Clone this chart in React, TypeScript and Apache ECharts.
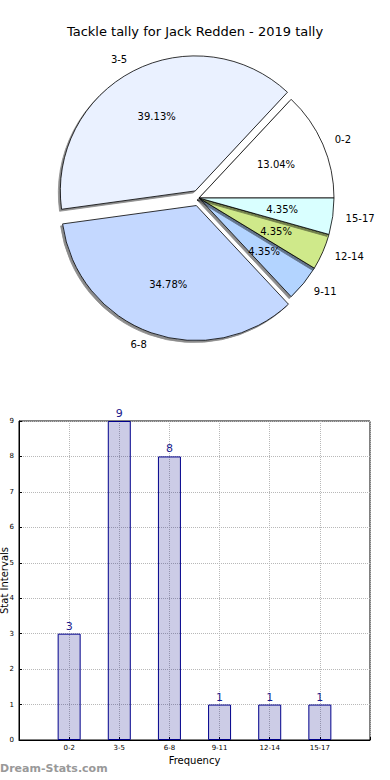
import React, { useEffect, useRef } from "react";
import * as echarts from "echarts";

const title = "Tackle tally for Jack Redden - 2019 tally";
const categories = ["0-2", "3-5", "6-8", "9-11", "12-14", "15-17"];
const counts = [3, 9, 8, 1, 1, 1];
const sliceColors = ["#ffffff", "#eaf1ff", "#c4d8ff", "#b3d4ff", "#cfe98a", "#d9ffff"];
const exploded = [false, true, true, false, false, false];
const yTicks = [0, 1, 2, 3, 4, 5, 6, 7, 8, 9];

const FONT = "DejaVu Sans";

export default function App() {
  const ref = useRef<HTMLDivElement>(null);
  useEffect(() => {
    document.body.style.margin = "0";
    const chart = echarts.init(ref.current!, null, { renderer: "svg" });
    const cx = 199;
    const cy = 198;
    const r = 135;
    const pieData = categories.map((c, i) => ({
      name: c,
      value: counts[i],
      selected: exploded[i],
      itemStyle: { color: sliceColors[i] },
    }));
    const xCats = ["", ...categories, ""];
    const barData: any[] = ["-", ...counts, "-"];
    chart.setOption({
      animation: false,
      textStyle: { fontFamily: FONT },
      title: {
        text: title,
        left: "center",
        top: 20,
        textStyle: { fontFamily: FONT, fontSize: 13, fontWeight: "normal", color: "#000" },
      },
      graphic: [
        {
          type: "text",
          left: 0,
          top: 763,
          style: {
            text: "Dream-Stats.com",
            fill: "#999999",
            font: "bold 11px DejaVu Sans",
          },
        },
      ],
      grid: {
        left: 19,
        top: 421,
        width: 351,
        height: 319,
        containLabel: false,
        outerBoundsMode: "none",
        show: true,
        borderColor: "#000",
        borderWidth: 1,
        backgroundColor: "transparent",
      },
      xAxis: {
        type: "category",
        data: xCats,
        boundaryGap: false,
        name: "Frequency",
        nameLocation: "middle",
        nameGap: 15,
        nameMoveOverlap: false,
        nameTextStyle: { fontFamily: FONT, fontSize: 10, color: "#000" },
        axisLine: { show: true, lineStyle: { color: "#000" } },
        axisTick: { show: true, inside: true, length: 3, lineStyle: { color: "#000" } },
        axisLabel: { fontFamily: FONT, fontSize: 7, color: "#000", margin: 4, interval: 0 },
        splitLine: { show: true, lineStyle: { color: "#b8b8b8", type: "dotted", width: 1 } },
      },
      yAxis: {
        type: "value",
        min: 0,
        max: 9,
        interval: 1,
        name: "Stat Intervals",
        nameLocation: "middle",
        nameGap: 9.5,
        nameMoveOverlap: false,
        nameRotate: 90,
        nameTextStyle: { fontFamily: FONT, fontSize: 10, color: "#000" },
        axisLine: { show: true, lineStyle: { color: "#000" } },
        axisTick: { show: true, inside: true, length: 3, lineStyle: { color: "#000" } },
        axisLabel: {
          fontFamily: FONT,
          fontSize: 7,
          color: "#000",
          margin: 5,
          formatter: (v: number) => (yTicks.includes(v) ? String(v) : ""),
        },
        splitLine: { show: true, lineStyle: { color: "#b8b8b8", type: "dotted", width: 1 } },
      },
      series: [
        {
          type: "pie",
          center: [cx, cy],
          radius: [0, r],
          startAngle: 0,
          clockwise: false,
          selectedMode: "multiple",
          selectedOffset: 8,
          avoidLabelOverlap: false,
          silent: true,
          data: pieData,
          itemStyle: {
            borderColor: "#000",
            borderWidth: 0.8,
            shadowColor: "rgba(0,0,0,0.45)",
            shadowBlur: 1,
            shadowOffsetX: -2,
            shadowOffsetY: 2,
          },
          label: {
            show: true,
            position: "outside",
            formatter: "{b}",
            fontFamily: FONT,
            fontSize: 10,
            color: "#000",
            distanceToLabelLine: 0,
          },
          labelLine: { show: false, length: 13, length2: 0 },
          emphasis: { disabled: true },
        },
        {
          type: "pie",
          center: [cx, cy],
          radius: [0, r * 1.2],
          startAngle: 0,
          clockwise: false,
          selectedMode: "multiple",
          selectedOffset: 8,
          avoidLabelOverlap: false,
          silent: true,
          data: pieData.map((d) => ({ ...d, itemStyle: { color: "transparent" } })),
          itemStyle: { color: "transparent", borderWidth: 0 },
          label: {
            show: true,
            position: "inside",
            formatter: "{d}%",
            fontFamily: FONT,
            fontSize: 10,
            color: "#000",
          },
          labelLine: { show: false },
          emphasis: { disabled: true },
        },
        {
          type: "bar",
          data: barData,
          barWidth: 23,
          itemStyle: {
            color: "rgba(0,0,128,0.2)",
            borderColor: "#00008b",
            borderWidth: 1,
          },
          label: {
            show: true,
            position: "top",
            distance: 2,
            fontFamily: FONT,
            fontSize: 11,
            color: "#1a1a8c",
          },
          emphasis: { disabled: true },
        },
      ],
    });
    return () => chart.dispose();
  }, []);
  return <div ref={ref} style={{ width: 390, height: 780 }} />;
}
